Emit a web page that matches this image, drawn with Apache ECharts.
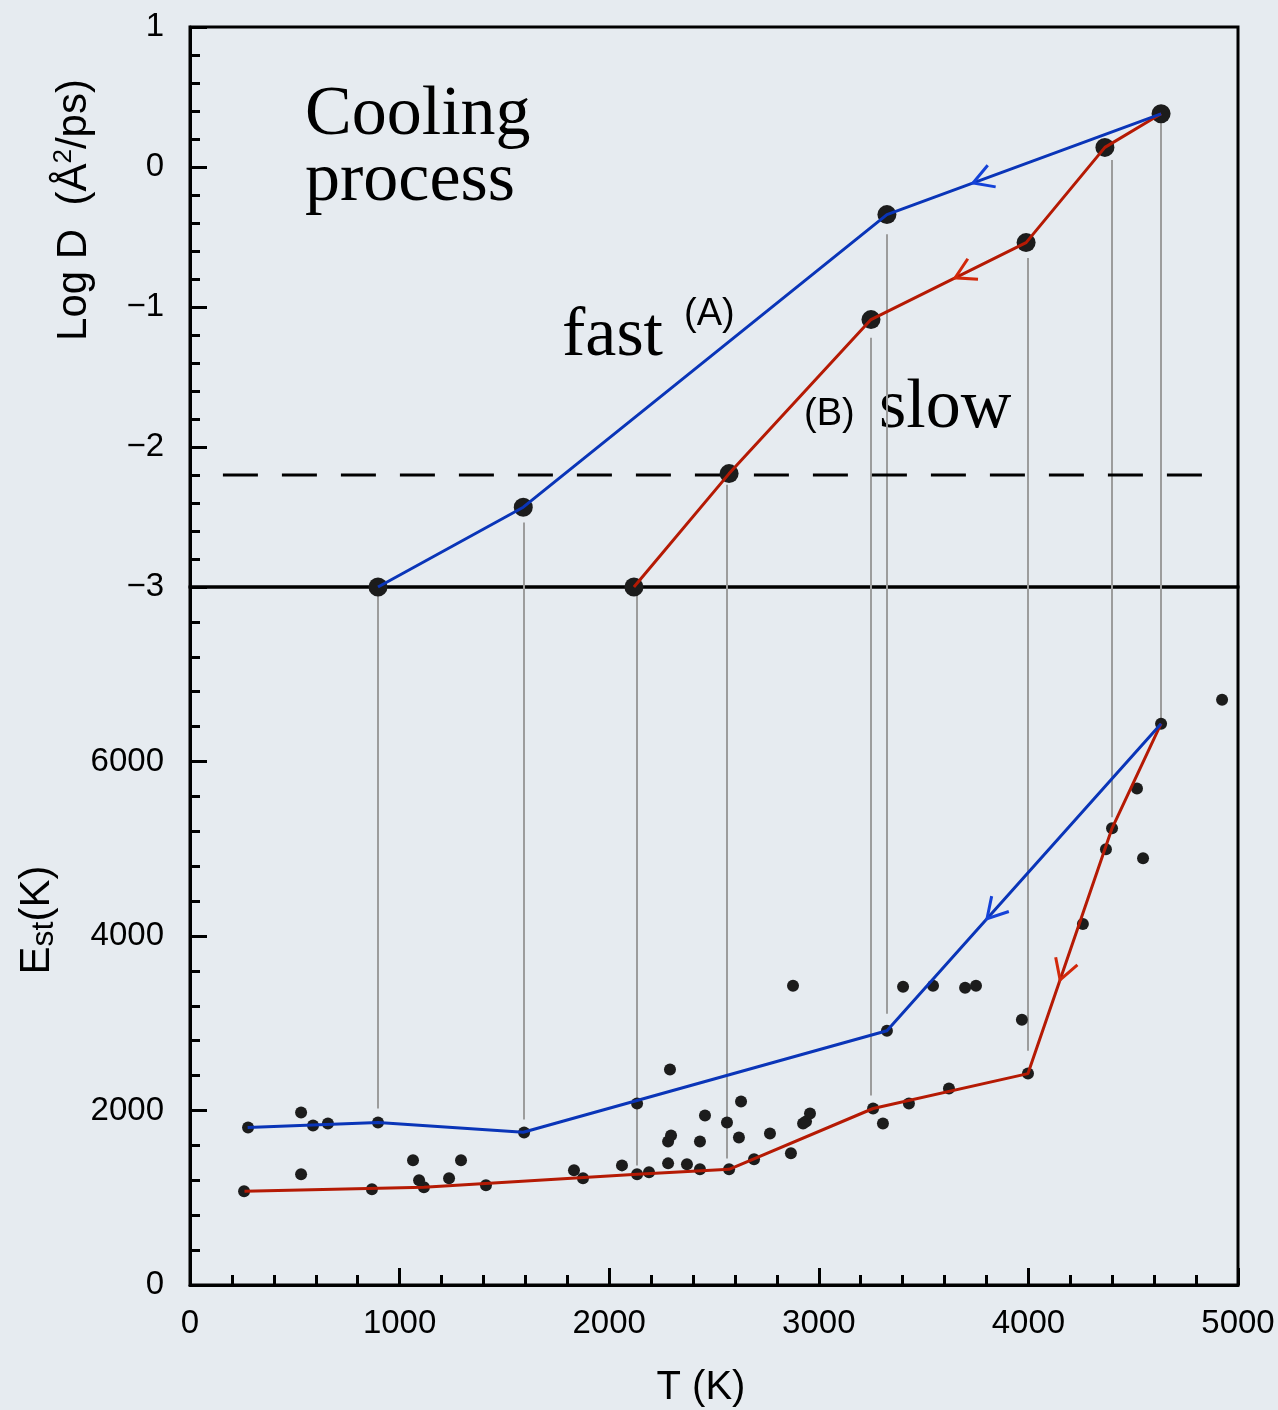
<!DOCTYPE html>
<html>
<head>
<meta charset="utf-8">
<title>Cooling process</title>
<script src="https://cdn.jsdelivr.net/npm/echarts@6/dist/echarts.min.js"></script>
<style>
  html, body { margin: 0; padding: 0; background: #e6ebf0; }
  #chart { width: 1278px; height: 1410px; }
</style>
</head>
<body>
<div id="chart"></div>
<script>
// ---- Diffusion coefficient (log D) along the two cooling paths ----
const fastLogT = [4633, 3325, 1590, 897];
const fastLogD = [0.38, -0.34, -2.43, -3.0];
const slowLogT = [4633, 4365, 3989, 3249, 2572, 2118];
const slowLogD = [0.38, 0.14, -0.54, -1.09, -2.19, -3.0];

// ---- Est along the two cooling paths ----
const fastEstT = [275, 897, 1590, 3325, 4633];
const fastEst  = [1806, 1863, 1750, 2914, 6434];
const slowEstT = [260, 1116, 2133, 2572, 3259, 3998, 4399, 4633];
const slowEst  = [1074, 1120, 1269, 1326, 2023, 2423, 5234, 6434];

// ---- all individual Est samples ----
const sampleT = [277, 530, 587, 658, 897, 1594, 2133, 530, 258, 868, 1064, 1093, 1116, 1236, 1293,
  1412, 1832, 1875, 2061, 2133, 2190, 2290, 2281, 2281, 2295, 2371, 2433, 2433, 2457, 2562, 2572,
  2619, 2629, 2691, 2767, 2867, 2925, 2939, 2958, 3259, 3306, 3430, 3621, 3998, 4924, 4633, 4518,
  4399, 4370, 4547, 4260, 3402, 3545, 3698, 3750, 3969, 3325, 2877];
const sampleEst = [1806, 1977, 1829, 1851, 1863, 1749, 2080, 1269, 1074, 1097, 1429, 1200, 1120, 1223, 1429,
  1143, 1314, 1223, 1371, 1269, 1291, 2469, 1394, 1646, 1714, 1383, 1646, 1326, 1943, 1863, 1326,
  1691, 2103, 1440, 1737, 1509, 1851, 1874, 1966, 2023, 1851, 2080, 2251, 2423, 6709, 6434, 5691,
  5234, 4994, 4891, 4137, 3417, 3429, 3406, 3429, 3040, 2914, 3429];

// ---- guide lines linking the two panels ----
const dropT       = [897, 1594, 2133, 2562, 3249, 3325, 3998, 4399, 4633];
const dropFromLog = [-3, -2.54, -3, -2.27, -1.22, -0.48, -0.65, 0.05, 0.35];
const dropToEst   = [2023, 1897, 1371, 1451, 2171, 3109, 2686, 5360, 6457];

// ---- threshold on log D and its horizontal extent ----
const thresholdLogD = [-2.2];
const thresholdSpanT = [157, 4866];

// ---- axis ranges ----
const tRange = [0, 5000];
const logRange = [-3, 1];
const estRange = [0, 8000];

const BLUE = '#0a35b8';
const RED = '#b51a04';
const BLUE_ARROW = '#1442d8';
const RED_ARROW = '#d2280a';
const DOT = '#1c1c1c';
const SANS = '"Liberation Sans", Arial, Helvetica, sans-serif';
const SERIF = '"Liberation Serif", "Times New Roman", serif';

const zip = (xs, ys) => xs.map((x, i) => [x, ys[i]]);

// direction chevron on segment [seg, seg+1], placed `frac` of the way from its hotter end;
// it points towards lower T (the cooling direction)
function chevron(xs, ys, seg, frac) {
  let hot = seg, cold = seg + 1;
  if (xs[cold] > xs[hot]) { hot = seg + 1; cold = seg; }
  const x0 = xs[hot], y0 = ys[hot], x1 = xs[cold], y1 = ys[cold];
  return [x0 + (x1 - x0) * frac, y0 + (y1 - y0) * frac, x0, y0];
}
const topArrows = [
  { d: chevron(fastLogT, fastLogD, 0, 0.686), c: BLUE_ARROW },
  { d: chevron(slowLogT, slowLogD, 2, 0.458), c: RED_ARROW }
];
const bottomArrows = [
  { d: chevron(fastEstT, fastEst, 3, 0.635), c: BLUE_ARROW },
  { d: chevron(slowEstT, slowEst, 5, 0.618), c: RED_ARROW }
];

function arrowSeries(xi, list) {
  return {
    type: 'custom', xAxisIndex: xi, yAxisIndex: xi, z: 6, silent: true,
    encode: { x: 0, y: 1 },
    data: list.map(a => ({ value: a.d, itemStyle: { color: a.c } })),
    renderItem: function (params, api) {
      const tip = api.coord([api.value(0), api.value(1)]);
      const back = api.coord([api.value(2), api.value(3)]);
      const ang = Math.atan2(back[1] - tip[1], back[0] - tip[0]);
      const L = 23, h = Math.PI / 6;
      const p1 = [tip[0] + L * Math.cos(ang - h), tip[1] + L * Math.sin(ang - h)];
      const p2 = [tip[0] + L * Math.cos(ang + h), tip[1] + L * Math.sin(ang + h)];
      return {
        type: 'polyline',
        shape: { points: [p1, tip, p2] },
        style: { stroke: api.visual('color'), lineWidth: 3, fill: null }
      };
    }
  };
}

const tickStyle = { color: '#000', width: 3 };
const labelStyle = { fontSize: 33, color: '#000', fontFamily: SANS };

const option = {
  backgroundColor: '#e6ebf0',
  animation: false,
  grid: [
    { left: 190, top: 27, width: 1048, height: 560, show: true, borderColor: '#000', borderWidth: 3,
      backgroundColor: 'transparent', outerBoundsMode: 'none', containLabel: false },
    { left: 190, top: 587, width: 1048, height: 698, show: true, borderColor: '#000', borderWidth: 3,
      backgroundColor: 'transparent', outerBoundsMode: 'none', containLabel: false }
  ],
  xAxis: [
    { gridIndex: 0, type: 'value', min: tRange[0], max: tRange[1], show: false },
    {
      gridIndex: 1, type: 'value', min: tRange[0], max: tRange[1], interval: 1000,
      axisLine: { lineStyle: tickStyle },
      axisTick: { inside: true, length: 17, lineStyle: tickStyle },
      minorTick: { show: true, splitNumber: 5, length: 10, lineStyle: tickStyle },
      axisLabel: Object.assign({ margin: 22, formatter: v => String(v) }, labelStyle),
      splitLine: { show: false }
    }
  ],
  yAxis: [
    {
      gridIndex: 0, type: 'value', min: logRange[0], max: logRange[1], interval: 1,
      axisLine: { lineStyle: tickStyle },
      axisTick: { inside: true, length: 17, lineStyle: tickStyle },
      minorTick: { show: true, splitNumber: 5, length: 10, lineStyle: tickStyle },
      axisLabel: Object.assign({ margin: 26, formatter: v => v < 0 ? '\u2212' + (-v) : String(v) }, labelStyle),
      splitLine: { show: false }
    },
    {
      gridIndex: 1, type: 'value', min: estRange[0], max: estRange[1], interval: 2000,
      axisLine: { lineStyle: tickStyle },
      axisTick: { inside: true, length: 17, lineStyle: tickStyle },
      minorTick: { show: true, splitNumber: 5, length: 10, lineStyle: tickStyle },
      axisLabel: Object.assign({ margin: 26, formatter: v => v === estRange[1] ? '' : String(v) }, labelStyle),
      splitLine: { show: false }
    }
  ],
  series: [
    // guide lines, upper part
    {
      type: 'lines', coordinateSystem: 'cartesian2d', xAxisIndex: 0, yAxisIndex: 0, z: 1, silent: true,
      lineStyle: { color: '#9c9c9c', width: 2, opacity: 1 },
      data: dropT.map((t, i) => ({ coords: [[t, dropFromLog[i]], [t, logRange[0]]] }))
        .filter((d, i) => dropFromLog[i] > logRange[0])
    },
    // guide lines, lower part
    {
      type: 'lines', coordinateSystem: 'cartesian2d', xAxisIndex: 1, yAxisIndex: 1, z: 1, silent: true,
      lineStyle: { color: '#9c9c9c', width: 2, opacity: 1 },
      data: dropT.map((t, i) => ({ coords: [[t, estRange[1]], [t, dropToEst[i]]] }))
    },
    // threshold
    {
      type: 'line', xAxisIndex: 0, yAxisIndex: 0, symbol: 'none', z: 2, silent: true,
      lineStyle: { color: '#000', width: 3, type: [35, 24] },
      data: thresholdSpanT.map(t => [t, thresholdLogD[0]])
    },
    // log D points
    {
      type: 'scatter', xAxisIndex: 0, yAxisIndex: 0, symbolSize: 19, z: 3,
      itemStyle: { color: DOT, opacity: 1 },
      data: zip(fastLogT, fastLogD).concat(zip(slowLogT.slice(1), slowLogD.slice(1)))
    },
    {
      type: 'line', xAxisIndex: 0, yAxisIndex: 0, symbol: 'none', z: 4,
      lineStyle: { color: RED, width: 3 }, data: zip(slowLogT, slowLogD)
    },
    {
      type: 'line', xAxisIndex: 0, yAxisIndex: 0, symbol: 'none', z: 5,
      lineStyle: { color: BLUE, width: 3 }, data: zip(fastLogT, fastLogD)
    },
    // Est samples
    {
      type: 'scatter', xAxisIndex: 1, yAxisIndex: 1, symbolSize: 12, z: 3,
      itemStyle: { color: DOT, opacity: 1 },
      data: zip(sampleT, sampleEst)
    },
    {
      type: 'line', xAxisIndex: 1, yAxisIndex: 1, symbol: 'none', z: 4,
      lineStyle: { color: RED, width: 3 }, data: zip(slowEstT, slowEst)
    },
    {
      type: 'line', xAxisIndex: 1, yAxisIndex: 1, symbol: 'none', z: 5,
      lineStyle: { color: BLUE, width: 3 }, data: zip(fastEstT, fastEst)
    },
    arrowSeries(0, topArrows),
    arrowSeries(1, bottomArrows)
  ],
  graphic: [
    { type: 'text', x: 305, y: 116, style: { text: 'Cooling', fontSize: 70, fontFamily: SERIF, fill: '#000', verticalAlign: 'middle' } },
    { type: 'text', x: 305, y: 182, style: { text: 'process', fontSize: 70, fontFamily: SERIF, fill: '#000', verticalAlign: 'middle' } },
    { type: 'text', x: 562, y: 337, style: { text: 'fast', fontSize: 70, fontFamily: SERIF, fill: '#000', verticalAlign: 'middle' } },
    { type: 'text', x: 684, y: 315, style: { text: '(A)', fontSize: 38, fontFamily: SANS, fill: '#000', verticalAlign: 'middle' } },
    { type: 'text', x: 804, y: 415, style: { text: '(B)', fontSize: 38, fontFamily: SANS, fill: '#000', verticalAlign: 'middle' } },
    { type: 'text', x: 879, y: 409, style: { text: 'slow', fontSize: 70, fontFamily: SERIF, fill: '#000', verticalAlign: 'middle' } },
    { type: 'text', x: 701, y: 1388, style: { text: 'T (K)', fontSize: 40, fontFamily: SANS, fill: '#000', align: 'center', verticalAlign: 'middle' } },
    {
      type: 'text', x: 74, y: 210, rotation: Math.PI / 2,
      style: {
        text: '{a|Log D  (Å}{s|2}{a|/ps)}', align: 'center', verticalAlign: 'middle', fill: '#000',
        rich: {
          a: { fontSize: 42, fontFamily: SANS, fill: '#000', lineHeight: 46 },
          s: { fontSize: 26, fontFamily: SANS, fill: '#000', verticalAlign: 'top', lineHeight: 26 }
        }
      }
    },
    {
      type: 'text', x: 37, y: 920, rotation: Math.PI / 2,
      style: {
        text: '{a|E}{s|st}{a|(K)}', align: 'center', verticalAlign: 'middle', fill: '#000',
        rich: {
          a: { fontSize: 42, fontFamily: SANS, fill: '#000', lineHeight: 46 },
          s: { fontSize: 32, fontFamily: SANS, fill: '#000', verticalAlign: 'bottom', lineHeight: 40 }
        }
      }
    }
  ]
};

const chart = echarts.init(document.getElementById('chart'), null, { renderer: 'canvas' });
chart.setOption(option);
</script>
</body>
</html>
